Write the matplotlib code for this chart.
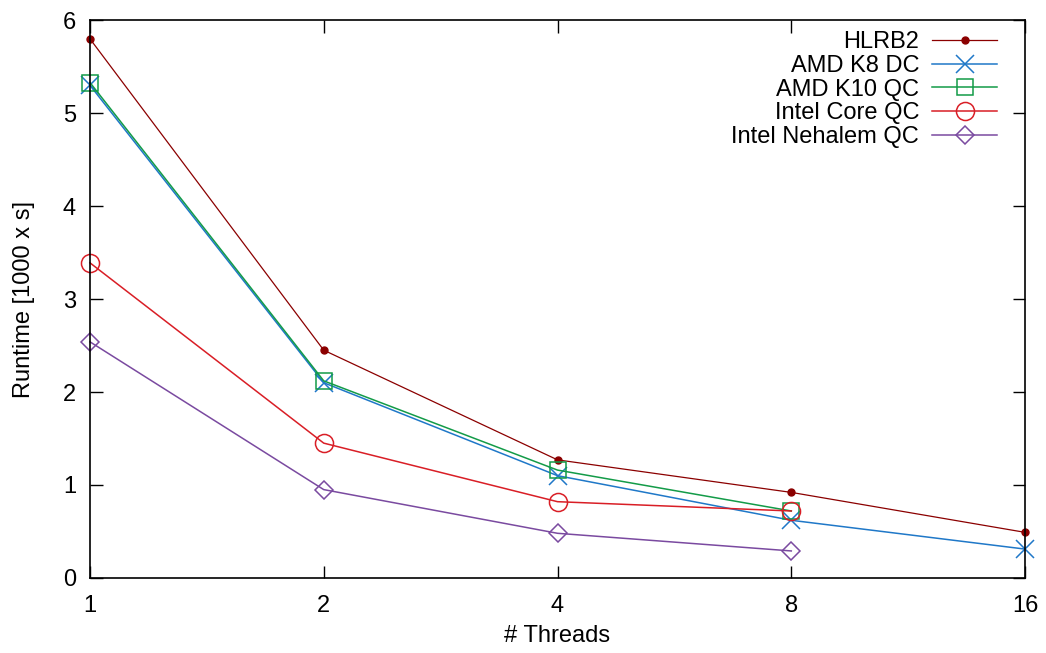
import matplotlib
matplotlib.use("Agg")
import matplotlib.pyplot as plt
from matplotlib.ticker import FixedLocator, FixedFormatter, NullLocator

plt.rcParams['font.family'] = ['Liberation Sans', 'DejaVu Sans']

threads = [1, 2, 4, 8, 16]
hlrb2 = [5.80, 2.45, 1.27, 0.92, 0.49]
amd_k8 = [5.30, 2.10, 1.10, 0.62, 0.31]
amd_k10 = [5.33, 2.12, 1.16, 0.72]
intel_core = [3.39, 1.45, 0.82, 0.72]
nehalem = [2.54, 0.95, 0.48, 0.29]

fig = plt.figure(figsize=(10.46, 6.53), dpi=100)
ax = fig.add_axes([0.086, 0.115, 0.894, 0.854])

kw = dict(lw=1.1, mew=1.1, clip_on=False)
ax.plot(threads, hlrb2, color='#8b0000', lw=0.9, marker='o', ms=5, clip_on=False, label='HLRB2')
ax.plot(threads, amd_k8, color='#1f78c8', marker='x', ms=13, label='AMD K8 DC', **kw)
ax.plot(threads[:4], amd_k10, color='#139b48', marker='s', ms=12, mfc='none', label='AMD K10 QC', **kw)
ax.plot(threads[:4], intel_core, color='#d91e26', marker='o', ms=13, mfc='none', label='Intel Core QC', **kw)
ax.plot(threads[:4], nehalem, color='#7a4aa0', marker='D', ms=9, mfc='none', label='Intel Nehalem QC', **kw)

ax.set_xscale('log', base=2)
ax.set_xlim(1, 16)
ax.set_ylim(0, 6)
ax.xaxis.set_major_locator(FixedLocator(threads))
ax.xaxis.set_major_formatter(FixedFormatter([str(t) for t in threads]))
ax.xaxis.set_minor_locator(NullLocator())
ax.set_yticks([0, 1, 2, 3, 4, 5, 6])
ax.tick_params(direction='in', top=True, right=True, length=9, width=1, labelsize=17)
ax.tick_params(axis='y', pad=10)
ax.tick_params(axis='x', pad=12)
for s in ax.spines.values():
    s.set_linewidth(1.2)

ax.set_xlabel('# Threads', fontsize=17, labelpad=6)
ax.set_ylabel('Runtime [1000 x s]', fontsize=17, labelpad=20)

ax.legend(loc='upper right', frameon=False, markerfirst=False, fontsize=17,
          handlelength=2.75, handletextpad=0.55, labelspacing=0.07,
          borderpad=0, borderaxespad=0, bbox_to_anchor=(0.970, 0.980))

fig.savefig('out.png', dpi=100)
